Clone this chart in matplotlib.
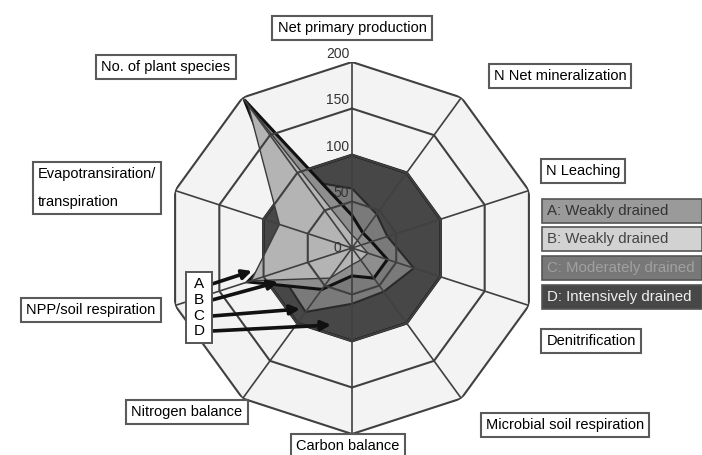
import numpy as np
import matplotlib.pyplot as plt
from matplotlib.patches import Rectangle

# radar axes, clockwise from the top
axis_names = ["Net primary production", "N Net mineralization", "N Leaching",
              "Denitrification", "Microbial soil respiration", "Carbon balance",
              "Nitrogen balance", "NPP/soil respiration",
              "Evapotransiration/\ntranspiration", "No. of plant species"]

ring_values = [50, 100, 150, 200]
tick_labels = ["0", "50", "100", "150", "200"]

series_names = ["A: Weakly drained", "B: Weakly drained",
                "C: Moderately drained", "D: Intensively drained"]
vals_a = [35, 20, 22, 40, 40, 30, 55, 118, 62, 197]
vals_b = [14, 10, 10, 18, 16, 18, 40, 114, 82, 190]
vals_c = [64, 45, 40, 70, 58, 60, 85, 82, 72, 90]
vals_d = [100, 100, 100, 100, 100, 100, 100, 100, 100, 100]

W, H = 702, 455
plt.rcParams['font.family'] = ['Liberation Sans', 'DejaVu Sans']

fig = plt.figure(figsize=(W / 100, H / 100), dpi=100)
cx, cy, R = 352, 248, 186
ax = fig.add_axes([(cx - R) / W, (H - cy - R) / H, 2 * R / W, 2 * R / H],
                  projection='polar')
ax.set_theta_zero_location('N')
ax.set_theta_direction(-1)
ax.set_ylim(0, 200)
ax.grid(False)
ax.set_xticks([])
ax.set_yticks([])
ax.spines['polar'].set_visible(False)
ax.patch.set_alpha(0)

n = len(axis_names)
theta = np.arange(n) * 2 * np.pi / n
tc = np.append(theta, theta[0])

def closed(v):
    return np.append(v, v[0])

# background of the web
ax.fill(tc, closed([200] * n), color='#f3f3f3', zorder=0)

# series, back to front
ax.fill(tc, closed(vals_d), facecolor='#474747', edgecolor='#111111', lw=2, zorder=2)
ax.fill(tc, closed(vals_c), facecolor='#7a7a7a', edgecolor='#2a2a2a', lw=1.5, zorder=3)
ax.fill(tc, closed(vals_a), facecolor='#8e8e8e', edgecolor='#111111', lw=2.2, zorder=4)
ax.fill(tc, closed(vals_b), facecolor='#b4b4b4', edgecolor='#3a3a3a', lw=1.0, zorder=5)

# grid
for r in ring_values:
    ax.plot(tc, closed([r] * n), color='#404040', lw=1.5, zorder=6)
for t in theta:
    ax.plot([t, t], [0, 200], color='#404040', lw=1.2, zorder=6)

for r, lab in zip([0] + ring_values, tick_labels):
    if r == 0:
        ax.annotate(lab, xy=(0, 0), xytext=(-8, 0), textcoords='offset points',
                    ha='right', va='center', fontsize=10, color='#333333', zorder=7)
    else:
        ax.annotate(lab, xy=(0, r), xytext=(-2, 1), textcoords='offset points',
                    ha='right', va='bottom', fontsize=10, color='#333333', zorder=7)

# axis label boxes (image pixel centres)
label_pos = [(352, 28), (560, 76), (583, 171), (591, 341), (565, 425),
             (348, 446), (187, 412), (91, 310), (97, 188), (166, 67)]
box = dict(boxstyle='square,pad=0.35', fc='white', ec='#5a5a5a', lw=1.5)
for name, (x, y) in zip(axis_names, label_pos):
    if "\n" in name:
        fig.text(x / W, 1 - y / H, name, ha='center', va='center', fontsize=10.5,
                 linespacing=2.3, multialignment='left', bbox=box)
    else:
        fig.text(x / W, 1 - y / H, name, ha='center', va='center', fontsize=10.5,
                 bbox=box)

# legend boxes on the right
leg_colors = ['#9a9a9a', '#d2d2d2', '#787878', '#474747']
leg_text = ['#333333', '#444444', '#a0a0a0', '#f0f0f0']
leg_top = [199, 227, 256, 285]
for name, fc, tcol, top in zip(series_names, leg_colors, leg_text, leg_top):
    fig.patches.append(Rectangle((542 / W, 1 - (top + 24) / H), 160 / W, 24 / H,
                                 transform=fig.transFigure, facecolor=fc,
                                 edgecolor='#555555', lw=1.2))
    fig.text(547 / W, 1 - (top + 12) / H, name, ha='left', va='center',
             fontsize=10.8, color=tcol)

# A-D pointer box with arrows
fig.patches.append(Rectangle((186 / W, 1 - 343 / H), 26 / W, 71 / H,
                             transform=fig.transFigure, facecolor='white',
                             edgecolor='#555555', lw=1.4, zorder=8))
letters = ["A", "B", "C", "D"]
letter_y = [284, 300, 316, 331]
tips = [(252, 271), (278, 282), (300, 309), (331, 325)]
for let, y, (tx, ty) in zip(letters, letter_y, tips):
    fig.text(199 / W, 1 - y / H, let, ha='center', va='center', fontsize=11,
             zorder=9)
    ax.annotate('', xy=(tx, H - ty), xycoords='figure pixels',
                xytext=(212, H - y), textcoords='figure pixels',
                arrowprops=dict(arrowstyle='-|>', lw=2.6, color='#111111',
                                mutation_scale=14, shrinkA=0, shrinkB=0),
                zorder=9)

fig.savefig('out.png', dpi=100)
